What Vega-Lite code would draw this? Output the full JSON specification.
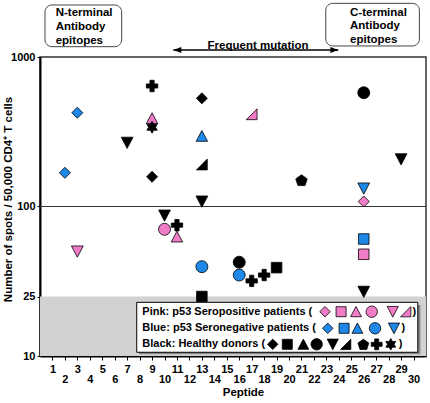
{
  "$schema": "https://vega.github.io/schema/vega-lite/v6.json",
  "width": 386,
  "height": 299,
  "autosize": {"type": "none"},
  "padding": {"left": 40, "top": 57, "right": 4, "bottom": 47},
  "config": {
    "font": "Liberation Sans",
    "view": {"stroke": "#333333", "strokeWidth": 1.5},
    "axis": {"grid": false, "domainColor": "#000000", "domainWidth": 2, "tickColor": "#000000", "labelColor": "#000000", "titleColor": "#000000", "labelFontWeight": "bold", "titleFontWeight": "bold", "labelFontSize": 11, "titleFontSize": 11.5}
  },
  "datasets": {
    "points": [
      {"x": 2, "y": 168, "g": "blue", "s": "diamond"},
      {"x": 3, "y": 424, "g": "blue", "s": "diamond"},
      {"x": 3, "y": 50, "g": "pink", "s": "tri-down"},
      {"x": 7, "y": 267, "g": "black", "s": "tri-down"},
      {"x": 9, "y": 640, "g": "black", "s": "cross"},
      {"x": 9, "y": 389, "g": "pink", "s": "tri-up"},
      {"x": 9, "y": 339, "g": "black", "s": "star6"},
      {"x": 9, "y": 158, "g": "black", "s": "diamond"},
      {"x": 10, "y": 87, "g": "black", "s": "tri-down"},
      {"x": 10, "y": 70.4, "g": "pink", "s": "circle"},
      {"x": 11, "y": 75, "g": "black", "s": "cross"},
      {"x": 11, "y": 62.8, "g": "pink", "s": "tri-up"},
      {"x": 13, "y": 529, "g": "black", "s": "diamond"},
      {"x": 13, "y": 296, "g": "blue", "s": "tri-up"},
      {"x": 13, "y": 191, "g": "black", "s": "rtri"},
      {"x": 13, "y": 108, "g": "black", "s": "tri-down"},
      {"x": 13, "y": 39.6, "g": "blue", "s": "circle"},
      {"x": 13, "y": 25, "g": "black", "s": "square"},
      {"x": 16, "y": 42.4, "g": "black", "s": "circle"},
      {"x": 16, "y": 34.8, "g": "blue", "s": "circle"},
      {"x": 17, "y": 414, "g": "pink", "s": "rtri"},
      {"x": 17, "y": 31.8, "g": "black", "s": "cross"},
      {"x": 18, "y": 34.8, "g": "black", "s": "cross"},
      {"x": 19, "y": 39, "g": "black", "s": "square"},
      {"x": 21, "y": 150, "g": "black", "s": "pentagon"},
      {"x": 26, "y": 577, "g": "black", "s": "circle"},
      {"x": 26, "y": 132, "g": "blue", "s": "tri-down"},
      {"x": 26, "y": 108, "g": "pink", "s": "diamond"},
      {"x": 26, "y": 60.6, "g": "blue", "s": "square"},
      {"x": 26, "y": 47.9, "g": "pink", "s": "square"},
      {"x": 26, "y": 26.9, "g": "black", "s": "tri-down"},
      {"x": 29, "y": 207, "g": "black", "s": "tri-down"}
    ],
    "legendSymbols": [
      {"x": 22.89, "y": 19.78, "g": "pink", "s": "diamond"},
      {"x": 24.18, "y": 19.78, "g": "pink", "s": "square"},
      {"x": 25.38, "y": 19.78, "g": "pink", "s": "tri-up"},
      {"x": 26.64, "y": 19.78, "g": "pink", "s": "circle"},
      {"x": 28.33, "y": 19.78, "g": "pink", "s": "tri-down"},
      {"x": 29.37, "y": 19.78, "g": "pink", "s": "rtri"},
      {"x": 23.11, "y": 15.32, "g": "blue", "s": "diamond"},
      {"x": 24.42, "y": 15.32, "g": "blue", "s": "square"},
      {"x": 25.49, "y": 15.32, "g": "blue", "s": "tri-up"},
      {"x": 26.91, "y": 15.32, "g": "blue", "s": "circle"},
      {"x": 28.43, "y": 15.32, "g": "blue", "s": "tri-down"},
      {"x": 18.69, "y": 11.97, "g": "black", "s": "diamond"},
      {"x": 19.86, "y": 11.97, "g": "black", "s": "square"},
      {"x": 21.15, "y": 11.97, "g": "black", "s": "tri-up"},
      {"x": 22.22, "y": 11.97, "g": "black", "s": "circle"},
      {"x": 23.51, "y": 11.97, "g": "black", "s": "tri-down"},
      {"x": 24.55, "y": 11.97, "g": "black", "s": "rtri"},
      {"x": 25.97, "y": 11.97, "g": "black", "s": "pentagon"},
      {"x": 27.04, "y": 11.97, "g": "black", "s": "cross"},
      {"x": 28.17, "y": 11.97, "g": "black", "s": "star6"}
    ],
    "legendTexts": [
      {"x": 8.22, "y": 19.78, "t": "Pink: p53 Seropositive patients ("},
      {"x": 8.22, "y": 15.32, "t": "Blue: p53 Seronegative patients ("},
      {"x": 8.22, "y": 11.97, "t": "Black: Healthy donors ("},
      {"x": 29.91, "y": 19.78, "t": ")"},
      {"x": 29.03, "y": 15.32, "t": ")"},
      {"x": 28.82, "y": 11.97, "t": ")"}
    ],
    "boxes": [
      {"x": 0.4, "x2": 6.56, "y": 2228, "y2": 1172},
      {"x": 22.95, "x2": 30.47, "y": 2285, "y2": 1185}
    ],
    "boxTexts": [
      {"x": 1.26, "y": 1959, "t": "N-terminal"},
      {"x": 1.26, "y": 1596, "t": "Antibody"},
      {"x": 1.26, "y": 1285, "t": "epitopes"},
      {"x": 24.9, "y": 1959, "t": "C-terminal"},
      {"x": 24.9, "y": 1604, "t": "Antibody"},
      {"x": 24.9, "y": 1300, "t": "epitopes"}
    ]
  },
  "encoding": {
    "x": {"field": "x", "type": "quantitative", "scale": {"domain": [0, 31], "nice": false, "zero": false},
      "axis": {"title": "Peptide", "values": [1,2,3,4,5,6,7,8,9,10,11,12,13,14,15,16,17,18,19,20,21,22,23,24,25,26,27,28,29,30], "tickSize": 4, "labelAngle": 0,
        "labelPadding": {"condition": {"test": "datum.value % 2 === 0", "value": 13}, "value": 3},
        "titleX": 203, "titleY": 30, "titleBaseline": "top"}},
    "y": {"field": "y", "type": "quantitative", "scale": {"type": "log", "domain": [10, 1000], "nice": false},
      "axis": {"title": "Number of spots  / 50,000 CD4⁺ T cells", "values": [10, 25, 100, 1000], "labelExpr": "format(datum.value, 'd')", "tickSize": 3, "labelPadding": 2,
        "titleX": -32, "titleY": 142, "titleBaseline": "middle", "titleAngle": -90, "titleAlign": "center"}}
  },
  "layer": [
    {"data": {"values": [{"x": 0, "x2": 31, "y": 10, "y2": 25}]},
     "mark": {"type": "rect", "fill": "#d2d2d2"},
     "encoding": {"x2": {"field": "x2"}, "y2": {"field": "y2"}}},
    {"data": {"values": [{"x": 0, "x2": 31, "y": 100}]},
     "mark": {"type": "rule", "color": "#333333", "strokeWidth": 1},
     "encoding": {"x2": {"field": "x2"}}},
    {"data": {"name": "points"},
     "mark": {"type": "point", "filled": true, "size": 144, "opacity": 1, "stroke": "#000000", "strokeWidth": 0.8},
     "encoding": {
       "color": {"field": "g", "type": "nominal", "legend": null, "scale": {"domain": ["pink", "blue", "black"], "range": ["#f07cc8", "#1e88e8", "#000000"]}},
       "shape": {"field": "s", "type": "nominal", "legend": null, "scale": {
         "domain": ["diamond", "square", "tri-up", "circle", "tri-down", "rtri", "pentagon", "cross", "star6"],
         "range": ["M0,-0.92L0.92,0L0,0.92L-0.92,0Z", "M-0.88,-0.88L0.88,-0.88L0.88,0.88L-0.88,0.88Z", "M0,-0.92L0.95,0.88L-0.95,0.88Z", "circle", "M-0.98,-0.92L0.98,-0.92L0,0.95Z", "M0.9,0.9L0.9,-0.9L-0.9,0.9Z", "M0,-0.905L0.951,-0.214L0.588,0.904L-0.588,0.904L-0.951,-0.214Z", "M-0.35,-0.95L0.35,-0.95L0.35,-0.35L0.95,-0.35L0.95,0.35L0.35,0.35L0.35,0.95L-0.35,0.95L-0.35,0.35L-0.95,0.35L-0.95,-0.35L-0.35,-0.35Z", "M0,-1L0.289,-0.5L0.866,-0.5L0.577,0L0.866,0.5L0.289,0.5L0,1L-0.289,0.5L-0.866,0.5L-0.577,0L-0.866,-0.5L-0.289,-0.5Z"]}}
     }},
    {"data": {"values": [{"x": 7.95, "x2": 30.55, "y": 21.9, "y2": 10.26}]},
     "mark": {"type": "rect", "fill": "#888888"},
     "encoding": {"x2": {"field": "x2"}, "y2": {"field": "y2"}}},
    {"data": {"values": [{"x": 7.77, "x2": 30.34, "y": 22.86, "y2": 10.59}]},
     "mark": {"type": "rect", "fill": "#ffffff", "stroke": "#000000", "strokeWidth": 1},
     "encoding": {"x2": {"field": "x2"}, "y2": {"field": "y2"}}},
    {"data": {"name": "legendTexts"},
     "mark": {"type": "text", "align": "left", "baseline": "middle", "fontSize": 11, "fontWeight": "bold", "color": "#000000"},
     "encoding": {"text": {"field": "t"}}},
    {"data": {"name": "legendSymbols"},
     "mark": {"type": "point", "filled": true, "size": 130, "opacity": 1, "stroke": "#000000", "strokeWidth": 0.8},
     "encoding": {
       "color": {"field": "g", "type": "nominal", "legend": null},
       "shape": {"field": "s", "type": "nominal", "legend": null}
     }},
    {"data": {"name": "boxes"},
     "mark": {"type": "rect", "fill": "#ffffff", "stroke": "#444444", "strokeWidth": 1, "cornerRadius": 7},
     "encoding": {"x2": {"field": "x2"}, "y2": {"field": "y2"}}},
    {"data": {"name": "boxTexts"},
     "mark": {"type": "text", "align": "left", "baseline": "middle", "fontSize": 11.5, "fontWeight": "bold", "color": "#000000"},
     "encoding": {"text": {"field": "t"}}},
    {"data": {"values": [{"x": 17.51, "y": 1190, "t": "Frequent mutation"}]},
     "mark": {"type": "text", "align": "center", "baseline": "middle", "fontSize": 11.5, "fontWeight": "bold", "color": "#000000"},
     "encoding": {"text": {"field": "t"}}},
    {"data": {"values": [{"x": 10.71, "x2": 23.96, "y": 1114}]},
     "mark": {"type": "rule", "color": "#000000", "strokeWidth": 1.5},
     "encoding": {"x2": {"field": "x2"}}},
    {"data": {"values": [{"x": 11.03, "y": 1114}]},
     "mark": {"type": "point", "filled": true, "size": 64, "opacity": 1, "color": "#000000", "shape": "M-1,0L1,-0.75L1,0.75Z"}},
    {"data": {"values": [{"x": 23.64, "y": 1114}]},
     "mark": {"type": "point", "filled": true, "size": 64, "opacity": 1, "color": "#000000", "shape": "M1,0L-1,-0.75L-1,0.75Z"}}
  ]
}
